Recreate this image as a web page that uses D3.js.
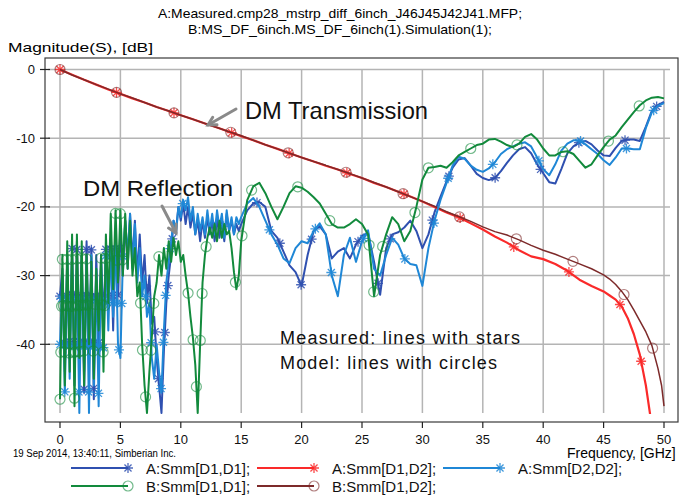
<!DOCTYPE html>
<html><head><meta charset="utf-8">
<script src="https://cdn.jsdelivr.net/npm/d3@7"></script>
<style>
html,body{margin:0;padding:0;background:#fff;}
svg{display:block;font-family:"Liberation Sans",Arial,sans-serif;}
</style></head>
<body><svg id="c" width="681" height="499"></svg>
<script>
// ---------------- DATA ----------------
const titleLines = ["A:Measured.cmp28_mstrp_diff_6inch_J46J45J42J41.MFP;", "B:MS_DF_6inch.MS_DF_6inch(1).Simulation(1);"];
const yAxisTitle = "Magnitude(S), [dB]";
const xAxisTitle = "Frequency, [GHz]";
const stampText = "19 Sep 2014, 13:40:11, Simberian Inc.";
const xTicks = [0,5,10,15,20,25,30,35,40,45,50];
const yTicks = [0,-10,-20,-30,-40];

// reflection sample frequencies (GHz)
const freqR = [0,0.2,0.4,0.6,0.8,1,1.2,1.4,1.6,1.8,2,2.2,2.4,2.6,2.8,3,3.2,3.4,3.6,3.8,4,4.2,4.4,4.6,4.8,5,5.2,5.4,5.6,5.8,6,6.2,6.4,6.6,6.8,7,7.2,7.4,7.6,7.8,8,8.2,8.4,8.6,8.8,9,9.2,9.4,9.6,9.8,10,10.2,10.4,10.6,10.8,11,11.2,11.4,11.6,11.8,12,
 12.2,12.4,12.6,12.8,13,13.2,13.4,13.6,13.8,14,14.2,14.4,14.6,14.8,15,
 15.5,16,16.5,17,17.5,18,18.5,19,19.5,20,20.5,21,21.5,22,22.5,23,23.5,24,24.5,25,25.5,26,26.5,27,27.5,28,28.5,29,29.5,30,30.5,31,31.5,32,32.5,33,33.5,34,34.5,35,35.5,36,36.5,37,37.5,38,38.5,39,39.5,40,40.5,41,41.5,42,42.5,43,43.5,44,44.5,45,45.5,46,46.5,47,47.5,48,48.5,49,49.5,50];

// A:Smm[D1,D1] measured
const aD1D1 = [-33,-29,-44,-27,-42,-26,-46,-25,-40,-27,-47,-25,-43,-26,-48,-27,-40,-27,-37,-26,-35,-25,-38,-24,-33,-23,-30,-22,-29,-21,-28,-22,-30,-24,-31,-27,-34,-30,-37,-36,-42,-46,-50,-41,-34,-30,-27,-22,-23.5,-20,-22,-19.5,-22.5,-20,-23,-21,-24,-22,-25,-22,-24.5,
 -21.5,-24,-22,-25,-21.5,-24.5,-22,-25,-21,-23.5,-22,-24,-22.5,-23.5,-22.5,
 -20.5,-19.5,-19.3,-20,-23.5,-24.5,-26.5,-28.5,-29.5,-31.5,-27,-23.5,-22.8,-24,-27.5,-26.5,-26,-27.5,-25.5,-24.2,-23.8,-28,-32.8,-26,-24,-23.7,-23,-22,-23.5,-26,-24,-20.8,-18.5,-16.3,-14.3,-13.1,-12.9,-14,-15.2,-15.8,-16.1,-15.8,-14.8,-13.6,-12.5,-11.6,-11.3,-12.2,-13.8,-15.1,-16.4,-16.6,-14.5,-12.2,-11.2,-10.6,-10.4,-10.9,-11.8,-12.5,-12.6,-11.4,-10.4,-10.2,-10.2,-10.4,-8.3,-6,-5.2,-4.7];

// A:Smm[D2,D2] measured
const aD2D2 = [-40,-30,-47,-28,-45,-27,-43,-29,-50,-27,-44,-28,-50,-27,-46,-29,-49,-28,-41,-26,-38,-25,-36,-24,-40,-42,-28,-22,-27,-21,-29,-22.5,-31,-26,-33,-30,-36,-34,-42,-45,-40,-44,-47,-38,-31,-28,-25,-22,-24,-20,-21.5,-19,-20.5,-18.6,-22,-20,-24,-21,-23.5,-21.5,-24,
 -20.5,-23.5,-21,-24,-20.5,-23,-21,-24.5,-20.5,-23.5,-21.5,-24,-21.5,-22.5,-21.5,
 -19.5,-18.7,-20,-22,-24,-25.5,-27.5,-28.2,-26,-25,-25.3,-23.5,-22.4,-24,-30,-33,-27,-24.5,-28,-25,-23.4,-29,-30,-27,-24.5,-25.5,-27.5,-28.3,-28.5,-31.5,-26,-22,-19,-16.5,-14,-12.7,-13,-14,-14.6,-14.9,-14.4,-13.5,-12.3,-11.6,-11.2,-10.8,-10.6,-11.2,-12.8,-14.5,-15.4,-13.8,-11.8,-10.8,-10.3,-10.3,-10.9,-11.6,-12.3,-13.2,-13.9,-12.8,-11.5,-11.5,-11.6,-11.6,-8.5,-6.2,-5.3,-4.9];

// B:Smm[D1,D1] model
const bD1D1 = [-48,-27,-46,-25,-44,-24,-49,-24,-42,-25,-46,-27,-40,-28,-45,-29,-38,-27,-44,-24,-34,-21,-32,-20.5,-31,-20.5,-30,-21,-29,-22,-30,-26,-33,-31,-40,-46,-50,-44,-39,-33,-31,-27,-30,-26,-29,-25,-28,-24.5,-27,-25,-28,-27,-30,-32.5,-36,-39,-43,-50,-40,-31,-27,
 -24.5,-23,-24.5,-22.5,-25,-22,-24.5,-22.5,-24,-23.5,-26,-29.5,-32,-30,-25,
 -19,-17,-16.5,-18,-20,-21.8,-20,-18,-17,-17.2,-17.8,-18.6,-19.5,-21,-22.5,-23,-23,-22.5,-21.8,-22.5,-24,-33,-27,-24,-21.5,-22.5,-25,-23.5,-20,-16,-14.3,-14.2,-14,-14.3,-13.5,-12.5,-12,-11.5,-11,-10.8,-10.2,-10.1,-10.5,-11,-11.3,-10.8,-9.8,-9.4,-10.2,-11.5,-12.5,-12.5,-12,-11.9,-12.3,-13.3,-14.3,-13.8,-12.5,-11.3,-10.2,-9.6,-8.4,-7.3,-6.2,-5.2,-4.5,-4.1,-4.0,-4.2];

// transmission sample frequencies (GHz)
const freqT = [0,1,2,3,4,5,6,7,8,9,10,11,12,13,14,15,16,17,18,19,20,21,22,23,24,25,26,27,28,29,30,31,32,33,34,35,36,37,38,39,40,41,42,43,44,45,45.5,46,46.5,47,47.5,48,48.5,49,49.5,49.8,50];
// A:Smm[D1,D2] measured
const aD1D2 = [0,-0.75,-1.5,-2.2,-2.9,-3.55,-4.2,-4.8,-5.45,-6.05,-6.65,-7.25,-7.85,-8.45,-9.05,-9.7,-10.3,-10.95,-11.55,-12.2,-12.8,-13.4,-14,-14.55,-15.2,-15.8,-16.5,-17.1,-17.8,-18.5,-19.2,-20,-20.8,-21.5,-22.4,-23.3,-24.3,-25.2,-26.3,-27.2,-27.6,-28.3,-29.3,-30.6,-31.5,-32.3,-32.9,-33.5,-34.5,-36.2,-38.5,-41.5,-46,-52,null,null,null];
// B:Smm[D1,D2] model
const bD1D2 = [0,-0.8,-1.5,-2.2,-2.85,-3.55,-4.15,-4.8,-5.45,-6.05,-6.65,-7.25,-7.85,-8.45,-9.05,-9.65,-10.3,-10.95,-11.55,-12.2,-12.8,-13.4,-13.95,-14.55,-15.15,-15.8,-16.45,-17.1,-17.8,-18.5,-19.2,-19.9,-20.7,-21.4,-22.1,-22.9,-23.6,-24.1,-24.8,-25.6,-26.3,-26.9,-27.6,-28.3,-29.0,-29.9,-30.5,-31.3,-32.3,-33.5,-35,-36.6,-38.2,-40.2,-43.5,-46,-49];

const seriesNames = ["A:Smm[D1,D1];","A:Smm[D1,D2];","A:Smm[D2,D2];","B:Smm[D1,D1];","B:Smm[D1,D2];"];
const seriesColors = ["#2f50b0","#fa2a2a","#1f87d6","#128a3c","#7d2a2a"];
const seriesMarkers = ["star","star","star","circle","circle"];

// ---------------- CHART ----------------
const svg = d3.select("#c");
const x = d3.scaleLinear().domain([0,50]).range([60,664]);
const y = d3.scaleLinear().domain([0,-50]).range([69.5,413]);
const box = {x0:45, y0:58, x1:678, y1:422};

svg.append("defs").append("clipPath").attr("id","clip")
  .append("rect").attr("x",box.x0).attr("y",box.y0).attr("width",box.x1-box.x0).attr("height",y(-50)-box.y0+1);

// grid
const grid = svg.append("g").attr("stroke","#b4b4b4").attr("stroke-width",1.5);
xTicks.forEach(t=>grid.append("line").attr("x1",x(t)).attr("x2",x(t)).attr("y1",y(0)).attr("y2",y(-50)));
yTicks.forEach(t=>grid.append("line").attr("x1",48).attr("x2",670).attr("y1",y(t)).attr("y2",y(t)));

// frame
svg.append("rect").attr("x",box.x0).attr("y",box.y0).attr("width",box.x1-box.x0).attr("height",box.y1-box.y0)
  .attr("fill","none").attr("stroke","#3a3a3a").attr("stroke-width",1.2);

// ticks
const tk = svg.append("g").attr("stroke","#222").attr("stroke-width",1.2);
yTicks.forEach(t=>tk.append("line").attr("x1",40).attr("x2",50).attr("y1",y(t)).attr("y2",y(t)));
xTicks.forEach(t=>tk.append("line").attr("x1",x(t)).attr("x2",x(t)).attr("y1",box.y1).attr("y2",box.y1+6));

const lab = svg.append("g").attr("font-size",13).attr("fill","#111");
yTicks.forEach(t=>lab.append("text").attr("x",35).attr("y",y(t)+4.5).attr("text-anchor","end").text(String(t)));
xTicks.forEach(t=>lab.append("text").attr("x",x(t)).attr("y",443.5).attr("text-anchor","middle").text(String(t)));

// titles
svg.append("text").attr("x",158).attr("y",18).attr("font-size",13).attr("textLength",364).attr("lengthAdjust","spacingAndGlyphs").text(titleLines[0]);
svg.append("text").attr("x",188).attr("y",34).attr("font-size",13).attr("textLength",304).attr("lengthAdjust","spacingAndGlyphs").text(titleLines[1]);
svg.append("text").attr("x",8).attr("y",52).attr("font-size",13).attr("textLength",145).attr("lengthAdjust","spacingAndGlyphs").text(yAxisTitle);
svg.append("text").attr("x",567).attr("y",458).attr("font-size",14).text(xAxisTitle);
svg.append("text").attr("x",13).attr("y",457).attr("font-size",10).attr("textLength",163).attr("lengthAdjust","spacingAndGlyphs").text(stampText);

// curves
const plot = svg.append("g").attr("clip-path","url(#clip)");
const line = d3.line().defined(d=>d.v!=null).x(d=>x(d.f)).y(d=>y(d.v));
const series = [
  {f:freqR, v:aD1D1, i:0, D:46, w:2},
  {f:freqT, v:aD1D2, i:1, D:60, w:2.2},
  {f:freqT, v:bD1D2, i:4, D:60, w:1.5},
  {f:freqR, v:aD2D2, i:2, D:46, w:2},
  {f:freqR, v:bD1D1, i:3, D:46, w:2}
];

function starPath(r){
  const a = r*0.7071;
  return `M${-r},0L${r},0M0,${-r}L0,${r}M${-a},${-a}L${a},${a}M${-a},${a}L${a},${-a}`;
}
function drawMarker(g, type, color, px, py){
  if(type==="star"){
    g.append("path").attr("d",starPath(5)).attr("transform",`translate(${px},${py})`)
      .attr("stroke",color).attr("stroke-width",1.3).attr("fill","none").attr("opacity",0.85);
  } else {
    g.append("circle").attr("cx",px).attr("cy",py).attr("r",5)
      .attr("stroke",color).attr("stroke-width",1.2).attr("fill","none").attr("opacity",0.6);
  }
}

series.forEach(s=>{
  const data = s.f.map((f,k)=>({f:f, v:s.v[k]}));
  const col = seriesColors[s.i];
  const p = plot.append("path").datum(data).attr("d",line)
    .attr("fill","none").attr("stroke",col).attr("stroke-width",s.w).attr("stroke-linejoin","round");
  const node = p.node();
  const L = node.getTotalLength();
  let last = node.getPointAtLength(0);
  const pts=[last];
  for(let sL=1; sL<=L; sL+=1){
    const q = node.getPointAtLength(sL);
    if(Math.hypot(q.x-last.x,q.y-last.y)>=s.D){pts.push(q); last=q;}
  }
  const mg = plot.append("g");
  pts.forEach(q=>drawMarker(mg, seriesMarkers[s.i], col, q.x, q.y));
});

// annotations
const ann = svg.append("g").attr("fill","#111");
ann.append("text").attr("x",245).attr("y",119).attr("font-size",24).attr("textLength",183).attr("lengthAdjust","spacingAndGlyphs").text("DM Transmission");
ann.append("text").attr("x",83).attr("y",196).attr("font-size",22).attr("textLength",150).attr("lengthAdjust","spacingAndGlyphs").text("DM Reflection");
ann.append("text").attr("x",280).attr("y",344).attr("font-size",18).attr("textLength",240).attr("lengthAdjust","spacing").text("Measured: lines with stars");
ann.append("text").attr("x",280).attr("y",369).attr("font-size",18).attr("textLength",217).attr("lengthAdjust","spacing").text("Model: lines with circles");

function arrow(x1,y1,x2,y2){
  const g = svg.append("g").attr("stroke","#8a8a8a").attr("stroke-width",3).attr("fill","none").attr("stroke-linecap","round");
  g.append("line").attr("x1",x1).attr("y1",y1).attr("x2",x2).attr("y2",y2);
  const ang = Math.atan2(y2-y1,x2-x1), h=9, w=0.5;
  g.append("path").attr("d",`M${x2-h*Math.cos(ang-w)},${y2-h*Math.sin(ang-w)}L${x2},${y2}L${x2-h*Math.cos(ang+w)},${y2-h*Math.sin(ang+w)}`);
}
arrow(236,109,208,125);
arrow(162,206,176,233);

// legend
const legendRows = [
  {i:0, x:71, y:468},{i:1, x:257, y:468},{i:2, x:443, y:468},
  {i:3, x:71, y:486},{i:4, x:257, y:486}
];
const lg = svg.append("g");
legendRows.forEach(r=>{
  const col = seriesColors[r.i];
  lg.append("line").attr("x1",r.x).attr("x2",r.x+57).attr("y1",r.y).attr("y2",r.y).attr("stroke",col).attr("stroke-width",2);
  drawMarker(lg, seriesMarkers[r.i], col, r.x+57, r.y);
  lg.append("text").attr("x",r.x+75).attr("y",r.y+5.5).attr("font-size",15).attr("fill","#111").text(seriesNames[r.i]);
});
</script></body></html>
